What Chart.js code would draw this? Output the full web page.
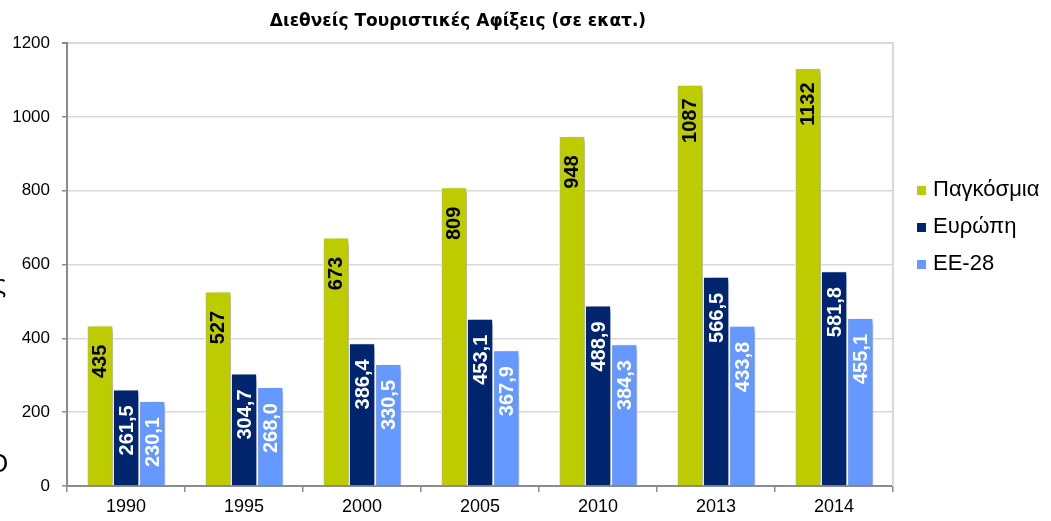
<!DOCTYPE html>
<html>
<head>
<meta charset="utf-8">
<script src="https://cdn.jsdelivr.net/npm/chart.js@4/dist/chart.umd.min.js"></script>
<style>
html,body{margin:0;padding:0;background:#fff;}
#wrap{width:1051px;height:521px;position:relative;}
</style>
</head>
<body>
<div id="wrap"><canvas id="c" width="1051" height="521"></canvas></div>
<script>
const titleText = 'Διεθνείς Τουριστικές Αφίξεις (σε εκατ.)';
const categories = ['1990','1995','2000','2005','2010','2013','2014'];
const seriesNames = ['Παγκόσμια','Ευρώπη','ΕΕ-28'];
const worldValues = [435,527,673,809,948,1087,1132];
const europeValues = [261.5,304.7,386.4,453.1,488.9,566.5,581.8];
const eu28Values = [230.1,268.0,330.5,367.9,384.3,433.8,455.1];
const yTicks = [0,200,400,600,800,1000,1200];
const colors = ['#BDCC00','#00256F','#6699FF'];
const labelColors = ['#000000','#FFFFFF','#FFFFFF'];
const labelDecimals = [0,1,1];

const FONT = '"Liberation Sans", Arial, sans-serif';

const extras = {
  id:'extras',
  beforeDatasetsDraw(chart){
    const ctx = chart.ctx;
    ctx.save();
    ctx.shadowColor = 'rgba(0,0,0,0.35)';
    ctx.shadowBlur = 5;
    ctx.shadowOffsetX = 4;
    ctx.shadowOffsetY = 2;
  },
  afterDatasetsDraw(chart){
    const ctx = chart.ctx;
    ctx.restore();
    chart.data.datasets.forEach((ds, di) => {
      const meta = chart.getDatasetMeta(di);
      meta.data.forEach((bar, i) => {
        const v = ds.data[i];
        const txt = v.toFixed(labelDecimals[di]).replace('.', ',');
        ctx.save();
        ctx.translate(bar.x, bar.y + (di === 0 ? 36 : 41));
        ctx.rotate(-Math.PI/2);
        ctx.font = 'bold 20px ' + FONT;
        ctx.fillStyle = labelColors[di];
        ctx.textAlign = 'center';
        ctx.textBaseline = 'middle';
        ctx.fillText(txt, 0, 1);
        ctx.restore();
      });
    });
  },
  afterDraw(chart){
    const ctx = chart.ctx;
    const a = chart.chartArea;
    ctx.save();
    ctx.strokeStyle = '#D9D9D9';
    ctx.lineWidth = 2;
    ctx.beginPath();
    ctx.moveTo(a.right, a.top - 1);
    ctx.lineTo(a.right, a.bottom);
    ctx.stroke();
    ctx.fillStyle = '#000';
    ctx.font = 'bold 17px "DejaVu Sans", sans-serif';
    ctx.textAlign = 'center';
    ctx.textBaseline = 'alphabetic';
    ctx.fillText(titleText, 458, 26);
    const ys = [189, 226, 263];
    seriesNames.forEach((n, i) => {
      ctx.fillStyle = chart.data.datasets[i].backgroundColor;
      ctx.fillRect(917, ys[i] - 3, 9, 9);
      ctx.fillStyle = '#000';
      ctx.font = '22px ' + FONT;
      ctx.textAlign = 'left';
      ctx.textBaseline = 'middle';
      ctx.fillText(n, 933, ys[i] + 1);
    });
    ctx.font = '26px ' + FONT;
    ctx.textAlign = 'center';
    ctx.textBaseline = 'alphabetic';
    ctx.fillText('ς', 0, 293);
    ctx.fillText('Ο', -2, 472);
    ctx.restore();
  }
};

new Chart(document.getElementById('c'), {
  type:'bar',
  data:{
    labels: categories,
    datasets:[
      {label:seriesNames[0], data:worldValues, backgroundColor:colors[0]},
      {label:seriesNames[1], data:europeValues, backgroundColor:colors[1]},
      {label:seriesNames[2], data:eu28Values, backgroundColor:colors[2]}
    ].map(d => Object.assign(d, {borderColor:'#FFFFFF', borderWidth:1, categoryPercentage:0.665, barPercentage:1.0}))
  },
  options:{
    responsive:false,
    animation:false,
    devicePixelRatio:1,
    layout:{padding:{left:0, right:158, top:43, bottom:0}},
    plugins:{legend:{display:false}, title:{display:false}, tooltip:{enabled:false}},
    scales:{
      x:{
        grid:{display:true, drawOnChartArea:false, drawTicks:true, tickLength:6, tickColor:'#8C8C8C', offset:true, lineWidth:1.5},
        border:{display:true, color:'#8C8C8C', width:2},
        ticks:{color:'#000', font:{family:FONT, size:18}, padding:4},
        afterFit(s){ s.height = 35; }
      },
      y:{
        min:0, max:1200,
        afterBuildTicks(s){ s.ticks = yTicks.map(v => ({value:v})); },
        grid:{color:'#D9D9D9', lineWidth:(c)=> c.tick && c.tick.value===1200 ? 2 : 1.5, tickColor:'#8C8C8C', tickLength:5},
        border:{display:true, color:'#8C8C8C', width:2},
        ticks:{color:'#000', font:{family:FONT, size:17}, padding:12, callback:(v)=>String(v)},
        afterFit(s){ s.width = 67; }
      }
    }
  },
  plugins:[extras]
});
</script>
</body>
</html>
